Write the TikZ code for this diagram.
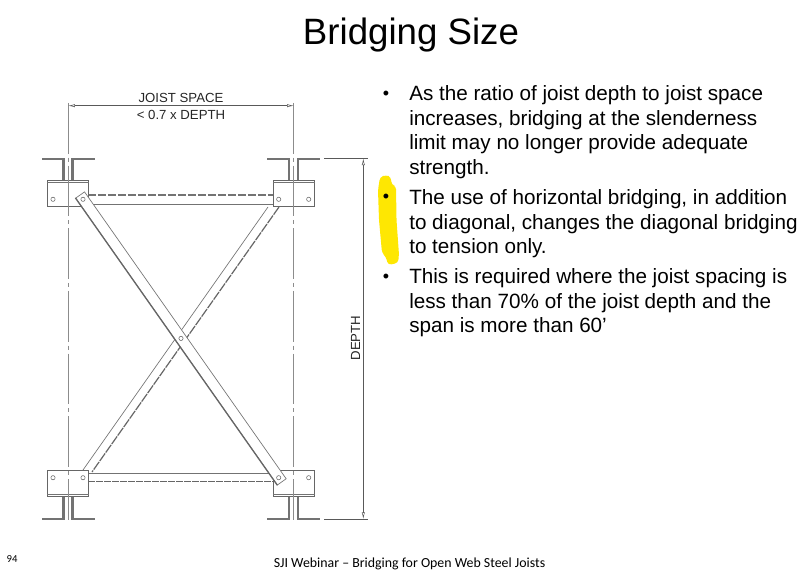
\documentclass[tikz,border=0pt]{standalone}
\usepackage{fontspec}
\setmainfont{Liberation Sans}
\newfontfamily\footfont{Carlito}
\usetikzlibrary{calc,arrows.meta}

\begin{document}
\begin{tikzpicture}[
    x=0.75pt, y=-0.75pt,
    plate/.style={draw=black!60, fill=white, line width=0.5pt, rectangle, minimum width=30.8pt, minimum height=20pt, inner sep=0pt},
    hole/.style={draw=black!60, fill=white, circle, line width=0.4pt, minimum size=3.2pt, inner sep=0pt},
    angleline/.style={draw=black!55, line width=1.7pt},
    thin line/.style={draw=black!55, line width=0.5pt},
    heavy line/.style={draw=black!60, line width=0.9pt},
    center line/.style={draw=black!45, line width=0.4pt, dash pattern=on 38pt off 3pt on 3pt off 3pt},
    dim/.style={draw=black!65, line width=0.4pt},
    dimtip/.style={{Latex[open,length=5pt,width=2.4pt]}-{Latex[open,length=5pt,width=2.4pt]}},
    dimtext/.style={font=\fontsize{9.9}{11}\selectfont, text=black!85, inner sep=0pt},
    para/.style={anchor=north west, align=left, inner sep=0pt, font=\fontsize{15.5}{18.4}\selectfont},
    dot/.style={inner sep=0pt, font=\fontsize{13.5}{15}\selectfont}
]
    \useasboundingbox (0,0) rectangle (800,577);

    % Title
    \node[font=\fontsize{27.5}{30}\selectfont, inner sep=0pt] (title) at (411,35) {Bridging Size};

    % Highlight behind second bullet
    \fill[yellow!90!orange, rounded corners=2.5pt] (378,190) -- (380,177) -- (386,175) -- (391,177) -- (391.5,185) -- (396,186)
        -- (396.5,220) -- (399,255) -- (398,263) -- (388,265) -- (386,257) -- (382,253) -- (379,220) -- cycle;

    % Angles on the joists
    \foreach \cx/\fy/\py in {68.3/159/180, 293.7/159/180, 68.3/519/497, 293.7/519/497} {
        \draw[angleline] (\cx-4.8,\py) -- (\cx-4.8,\fy) -- (\cx-26.5,\fy);
        \draw[angleline] (\cx+4.2,\py) -- (\cx+4.2,\fy) -- (\cx+26.5,\fy);
    }

    % Horizontal bridging
    \draw[thin line, line width=0.8pt, dash pattern=on 6pt off 1.5pt] (88,195) -- (274,195);
    \draw[thin line] (88,204.5) -- (274,204.5);
    \draw[thin line] (88,473.5) -- (274,473.5);
    \draw[heavy line, dash pattern=on 5pt off 1pt] (88,481.7) -- (274,481.7);

    % Diagonal behind
    \coordinate (B2a) at (268,207);
    \coordinate (B2b) at (83,470);
    \coordinate (B2c) at (279,207);
    \coordinate (B2d) at (92,472);
    \draw[thin line] (B2a) -- (B2b);
    \draw[heavy line, dash pattern=on 7pt off 0.8pt] (B2c) -- (B2d);

    % Connection plates
    \node[plate] (PTL) at (68.1,193.3) {};
    \node[plate] (PTR) at (293.7,193.3) {};
    \node[plate] (PBL) at (68.1,483.3) {};
    \node[plate] (PBR) at (293.7,483.3) {};
    \draw[thin line] ($(PTL.north west)+(0,3)$) -- ($(PTL.north east)+(0,3)$);
    \draw[thin line] ($(PTR.north west)+(0,3)$) -- ($(PTR.north east)+(0,3)$);
    \draw[thin line] ($(PBL.south west)+(0,-3)$) -- ($(PBL.south east)+(0,-3)$);
    \draw[thin line] ($(PBR.south west)+(0,-3)$) -- ($(PBR.south east)+(0,-3)$);

    % Centre lines
    \coordinate (CLa) at (68.3,103);
    \coordinate (CLb) at (68.3,520);
    \coordinate (CRa) at (293.7,103);
    \coordinate (CRb) at (293.7,520);
    \draw[center line] (CLa) -- (CLb);
    \draw[center line] (CRa) -- (CRb);

    % Diagonal in front
    \node[draw=black!55, fill=white, line width=0.5pt, rectangle, rotate=-54.9, minimum width=263pt, minimum height=8pt, inner sep=0pt] (B1) at (181,338.4) {};
    \draw[heavy line] (B1.south west) -- (B1.south east);

    % Holes
    \foreach \hx/\hy [count=\i] in {53/199.3, 83/199.3, 278.7/199.3, 308.7/199.3, 53/477.7, 83/477.7, 278.7/477.7, 308.7/477.7, 181/338.4} {
        \node[hole] (H\i) at (\hx,\hy) {};
    }

    % Joist space dimension
    \coordinate (DSa) at (68.3,105.7);
    \coordinate (DSb) at (293.7,105.7);
    \draw[dim, dimtip] (DSa) -- (DSb);
    \node[dimtext] (DS1) at (181,98) {JOIST SPACE};
    \node[dimtext] (DS2) at (181,115) {< 0.7 x DEPTH};

    % Depth dimension
    \coordinate (DDa) at (363.3,158.5);
    \coordinate (DDb) at (363.3,519);
    \draw[dim] (324,158.5) -- (367.5,158.5);
    \draw[dim] (324,519) -- (367.5,519);
    \draw[dim, dimtip] (DDa) -- (DDb);
    \node[dimtext, rotate=90] (DD1) at (355.5,338) {DEPTH};

    % Bullets
    \node[dot] (d1) at (386,95) {•};
    \node[dot] (d2) at (386,198.5) {•};
    \node[dot] (d3) at (386,278) {•};
    \node[para] (p1) at (409,85.5) {As the ratio of joist depth to joist space\\increases, bridging at the slenderness\\limit may no longer provide adequate\\strength.};
    \node[para] (p2) at (409,189.5) {The use of horizontal bridging, in addition\\to diagonal, changes the diagonal bridging\\to tension only.};
    \node[para] (p3) at (409,268.5) {This is required where the joist spacing is\\less than 70\% of the joist depth and the\\span is more than 60’};

    % Footer
    \node[font=\footfont\fontsize{10.4}{12}\selectfont, inner sep=0pt] (foot) at (409.5,564) {SJI Webinar – Bridging for Open Web Steel Joists};
    \node[font=\footfont\fontsize{8}{10}\selectfont, inner sep=0pt] (page) at (12,559) {94};

\end{tikzpicture}
\end{document}
